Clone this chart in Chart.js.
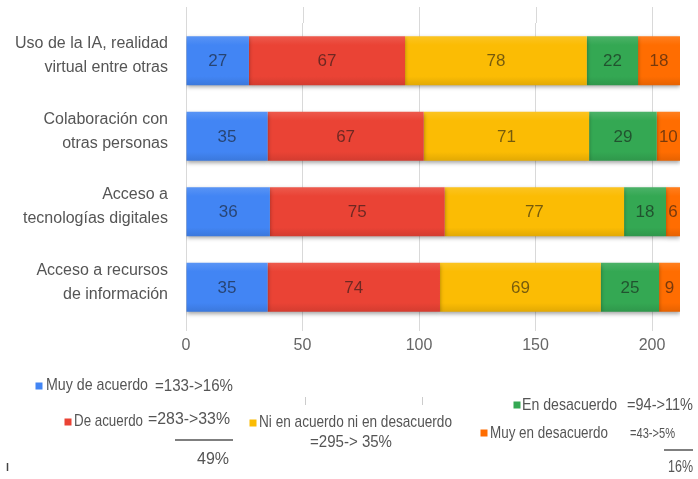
<!DOCTYPE html>
<html lang="es">
<head>
<meta charset="utf-8">
<title>Percepción sobre competencias digitales</title>
<script src="https://cdn.jsdelivr.net/npm/chart.js@4/dist/chart.umd.min.js"></script>
<style>
  html, body { margin: 0; padding: 0; background: #ffffff; }
  #wrap { position: relative; width: 698px; height: 479px; }
</style>
</head>
<body>
<div id="wrap"><canvas id="chart"></canvas></div>
<script>
// Categories (two-line labels) and the five answer series
const categories = [
  ["Uso de la IA, realidad", "virtual entre otras"],
  ["Colaboración con", "otras personas"],
  ["Acceso a", "tecnologías digitales"],
  ["Acceso a recursos", "de información"]
];
const seriesNames = [
  "Muy de acuerdo",
  "De acuerdo",
  "Ni en acuerdo ni en desacuerdo",
  "En desacuerdo",
  "Muy en desacuerdo"
];
const muyDeAcuerdo    = [27, 35, 36, 35];
const deAcuerdo       = [67, 67, 75, 74];
const niAcuerdoNiDes  = [78, 71, 77, 69];
const enDesacuerdo    = [22, 29, 18, 25];
const muyEnDesacuerdo = [18, 10, 6, 9];
const xTickValues = [0, 50, 100, 150, 200];
const xMax = 212;

// Totals written next to each legend entry, and the grouped percentages
const legendNotes = ["=133->16%", "=283->33%", "=295-> 35%", "=94->11%", "=43->5%"];
const groupTotals = ["49%", "16%"];

const seriesColors = ["#4285F4", "#EA4335", "#FBBC04", "#34A853", "#FF6D01"];
const seriesValues = [muyDeAcuerdo, deAcuerdo, niAcuerdoNiDes, enDesacuerdo, muyEnDesacuerdo];

const FONT = "'Liberation Sans', Arial, Helvetica, sans-serif";
const BAR_PCT = 0.65;

function mix(hex, target, amt) {
  const n = parseInt(hex.slice(1), 16);
  const r = (n >> 16) & 255, g = (n >> 8) & 255, b = n & 255;
  const m = (c) => Math.round(c + (target - c) * amt);
  return `rgb(${m(r)},${m(g)},${m(b)})`;
}

// Slight top-to-bottom shading on each bar segment
function barFill(base) {
  return (c) => {
    const chart = c.chart;
    const ys = chart.scales && chart.scales.y;
    if (!ys || c.dataIndex === undefined || !isFinite(ys.height)) return base;
    const yc = ys.getPixelForValue(c.dataIndex);
    const half = (ys.height / categories.length) * BAR_PCT / 2;
    if (!isFinite(yc)) return base;
    const g = chart.ctx.createLinearGradient(0, yc - half, 0, yc + half);
    g.addColorStop(0, mix(base, 255, 0.12));
    g.addColorStop(0.18, base);
    g.addColorStop(0.82, base);
    g.addColorStop(1, mix(base, 0, 0.1));
    return g;
  };
}

// Soft drop shadow under the bars
const barShadow = {
  id: "barShadow",
  beforeDatasetDraw(chart) {
    const ctx = chart.ctx;
    ctx.save();
    ctx.shadowColor = "rgba(0,0,0,0.35)";
    ctx.shadowBlur = 4;
    ctx.shadowOffsetX = 0;
    ctx.shadowOffsetY = 2;
  },
  afterDatasetDraw(chart) {
    chart.ctx.restore();
  }
};

// Value printed in the middle of every segment
const segmentValues = {
  id: "segmentValues",
  afterDatasetsDraw(chart) {
    const ctx = chart.ctx;
    ctx.save();
    ctx.font = `17px ${FONT}`;
    ctx.textAlign = "center";
    ctx.textBaseline = "middle";
    ctx.fillStyle = "rgba(20,20,20,0.58)";
    chart.data.datasets.forEach((ds, di) => {
      const meta = chart.getDatasetMeta(di);
      meta.data.forEach((el, i) => {
        const cx = (el.x + el.base) / 2;
        ctx.fillText(String(ds.data[i]), cx, el.y + 1);
      });
    });
    ctx.restore();
  }
};

// Vertical grid lines continue a little above the first bar
const gridExtension = {
  id: "gridExtension",
  beforeDatasetsDraw(chart) {
    const ctx = chart.ctx;
    const xs = chart.scales.x;
    const top = chart.chartArea.top;
    ctx.save();
    ctx.strokeStyle = "#d9d9d9";
    ctx.lineWidth = 1;
    xs.ticks.forEach((t) => {
      const x = Math.round(xs.getPixelForValue(t.value)) + 0.5;
      ctx.beginPath();
      ctx.moveTo(x, 7);
      ctx.lineTo(x, top);
      ctx.stroke();
    });
    ctx.restore();
  }
};

// Legend with the totals and grouped percentages
const annotatedLegend = {
  id: "annotatedLegend",
  afterDraw(chart) {
    const ctx = chart.ctx;
    ctx.save();
    ctx.textBaseline = "middle";
    ctx.textAlign = "left";
    const text = (s, x, y, w, size) => {
      ctx.font = `${size || 17}px ${FONT}`;
      ctx.fillStyle = "#555555";
      ctx.fillText(s, x, y, w);
    };
    const swatch = (i, cx, cy) => {
      ctx.fillStyle = seriesColors[i];
      ctx.fillRect(cx - 3.5, cy - 3.5, 7, 7);
    };
    const rule = (x1, x2, y) => {
      ctx.strokeStyle = "#555555";
      ctx.lineWidth = 1.5;
      ctx.beginPath();
      ctx.moveTo(x1, y);
      ctx.lineTo(x2, y);
      ctx.stroke();
    };

    swatch(0, 39, 386);
    text(seriesNames[0], 46, 385, 102);
    text(legendNotes[0], 155, 387, 78, 16);

    swatch(1, 68, 422);
    text(seriesNames[1], 74, 421, 69);
    text(legendNotes[1], 148, 420, 82, 16);
    rule(175, 233, 440);
    text(groupTotals[0], 197, 460, 33, 16);

    swatch(2, 253, 423);
    text(seriesNames[2], 259, 422, 193);
    text(legendNotes[2], 310, 443, 82, 16);

    swatch(3, 517, 405);
    text(seriesNames[3], 522, 405, 95);
    text(legendNotes[3], 627, 406, 66, 16);

    swatch(4, 484, 433);
    text(seriesNames[4], 490, 433, 118);
    text(legendNotes[4], 630, 434, 45, 15);
    rule(664, 693, 450);
    text(groupTotals[1], 668, 468, 25, 16);

    // short marks left on the sheet
    ctx.strokeStyle = "#cccccc";
    ctx.lineWidth = 1;
    [305.5, 422.5].forEach((x) => {
      ctx.beginPath(); ctx.moveTo(x, 397); ctx.lineTo(x, 405); ctx.stroke();
    });
    ctx.strokeStyle = "#444444";
    ctx.lineWidth = 1.5;
    ctx.beginPath(); ctx.moveTo(7.5, 463); ctx.lineTo(7.5, 471); ctx.stroke();
    ctx.restore();
  }
};

new Chart(document.getElementById("chart"), {
  type: "bar",
  data: {
    labels: categories,
    datasets: seriesNames.map((name, i) => ({
      label: name,
      data: seriesValues[i],
      backgroundColor: barFill(seriesColors[i]),
      borderWidth: 0,
      barPercentage: BAR_PCT,
      categoryPercentage: 1
    }))
  },
  options: {
    indexAxis: "y",
    responsive: true,
    maintainAspectRatio: false,
    animation: false,
    layout: { padding: { top: 23, right: 18, left: 0, bottom: 0 } },
    plugins: {
      legend: { display: false },
      tooltip: { enabled: false }
    },
    scales: {
      x: {
        stacked: true,
        min: 0,
        max: xMax,
        border: { display: false },
        grid: { color: "#d9d9d9", tickLength: 6, drawTicks: true, tickColor: "#d9d9d9" },
        ticks: {
          stepSize: 50,
          color: "#666666",
          padding: 5,
          maxRotation: 0,
          font: { family: FONT, size: 16 }
        },
        afterBuildTicks(scale) {
          scale.ticks = xTickValues.map((v) => ({ value: v }));
        },
        afterFit(scale) {
          scale.height = 154;
          scale.paddingLeft = 0;
          scale.paddingRight = 0;
        }
      },
      y: {
        stacked: true,
        border: { display: false },
        grid: { display: false, drawTicks: false },
        ticks: {
          color: "#555555",
          padding: 18,
          labelOffset: -5,
          font: { family: FONT, size: 16, lineHeight: 1.5 }
        },
        afterFit(scale) {
          scale.width = 186;
          scale.paddingTop = 0;
          scale.paddingBottom = 0;
        }
      }
    }
  },
  plugins: [gridExtension, barShadow, segmentValues, annotatedLegend]
});
</script>
</body>
</html>
